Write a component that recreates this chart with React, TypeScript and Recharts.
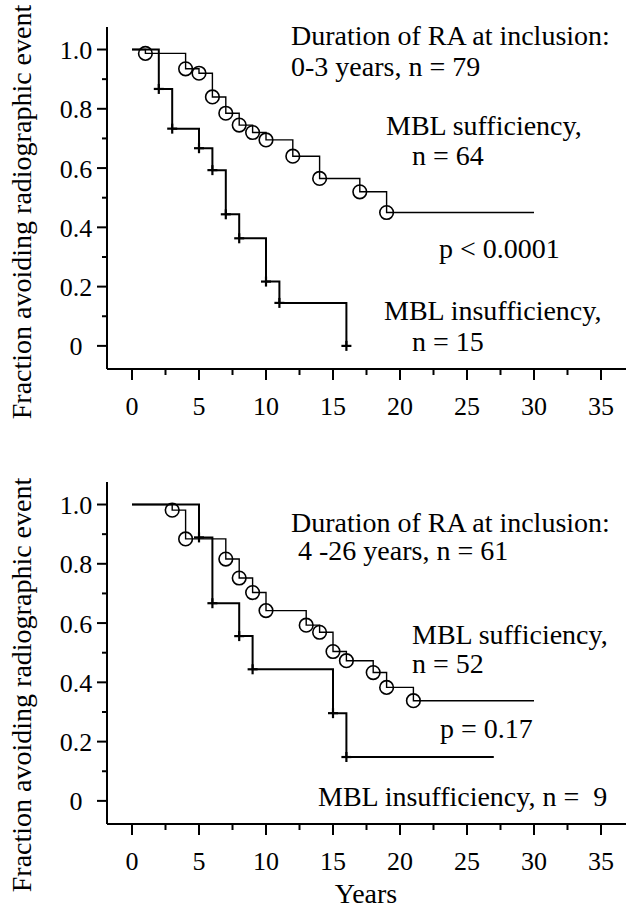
import React from 'react';
import { LineChart, Line, XAxis, YAxis } from 'recharts';

// ---- shared axes ----
const yearTicks = [0, 2.5, 5, 7.5, 10, 12.5, 15, 17.5, 20, 22.5, 25, 27.5, 30, 32.5, 35];
const fractionTicks = [0, 0.1, 0.2, 0.3, 0.4, 0.5, 0.6, 0.7, 0.8, 0.9, 1.0];

// ---- top panel: 0-3 years ----
const topSuffYears = [0, 1, 4, 5, 6, 7, 8, 9, 10, 12, 14, 17, 19, 30];
const topSuffFraction = [1.0, 0.987, 0.935, 0.92, 0.84, 0.785, 0.745, 0.72, 0.695, 0.64, 0.565, 0.52, 0.45, 0.45];
const topInsuffYears = [0, 2, 3, 5, 6, 7, 8, 10, 11, 16];
const topInsuffFraction = [1.0, 0.867, 0.733, 0.667, 0.593, 0.444, 0.363, 0.217, 0.145, 0];

// ---- bottom panel: 4-26 years ----
const botSuffYears = [0, 3, 4, 7, 8, 9, 10, 13, 14, 15, 16, 18, 19, 21, 30];
const botSuffFraction = [1.0, 0.981, 0.884, 0.816, 0.752, 0.703, 0.642, 0.593, 0.569, 0.504, 0.473, 0.433, 0.383, 0.338, 0.338];
const botInsuffYears = [0, 5, 6, 8, 9, 15, 16, 27];
const botInsuffFraction = [1.0, 0.889, 0.667, 0.556, 0.444, 0.296, 0.148, 0.148];

const FONT = '"Liberation Serif", "Times New Roman", serif';

function buildSeries(years: number[], fractions: number[], lastIsMark: boolean) {
  return years.map((y, i) => ({
    year: y,
    frac: fractions[i],
    mark: i > 0 && (i < years.length - 1 || lastIsMark),
  }));
}

const CircleDot = (props: any) => {
  const { cx, cy, payload, index } = props;
  if (!payload || !payload.mark) return <g key={`c-${index}`} />;
  return <circle key={`c-${index}`} cx={cx} cy={cy} r={6.8} fill="none" stroke="#000" strokeWidth={1.6} />;
};

const CrossDot = (props: any) => {
  const { cx, cy, payload, index } = props;
  if (!payload || !payload.mark) return <g key={`x-${index}`} />;
  return (
    <g key={`x-${index}`}>
      <line x1={cx - 5} x2={cx + 5} y1={cy} y2={cy} stroke="#000" strokeWidth={2.2} />
      <line x1={cx} x2={cx} y1={cy - 5} y2={cy + 5} stroke="#000" strokeWidth={2.2} />
    </g>
  );
};

const XTick = (props: any) => {
  const { x, y, payload } = props;
  const v = payload.value;
  const major = Math.abs(v % 5) < 1e-6;
  return (
    <g>
      <line x1={x} x2={x} y1={y} y2={y + (major ? 11 : 6)} stroke="#000" strokeWidth={2} />
      {major && (
        <text x={x} y={y + 46} textAnchor="middle" fontSize={26} style={{ fontFamily: FONT }} fill="#000">
          {v}
        </text>
      )}
    </g>
  );
};

const YTick = (props: any) => {
  const { x, y, payload } = props;
  const v = payload.value;
  const major = Math.round(v * 10) % 2 === 0;
  return (
    <g>
      <line x1={x} x2={x - (major ? 10 : 5)} y1={y} y2={y} stroke="#000" strokeWidth={2} />
      {major && (
        <text x={76} y={y + 9.5} textAnchor="middle" fontSize={26} style={{ fontFamily: FONT }} fill="#000">
          {v === 0 ? '0' : v.toFixed(1)}
        </text>
      )}
    </g>
  );
};

function Panel({ suff, insuff }: { suff: any[]; insuff: any[] }) {
  return (
    <LineChart width={626} height={455} margin={{ top: 27, right: 0, bottom: 0, left: 0 }}>
      <XAxis
        type="number"
        dataKey="year"
        domain={[-1.866, 36.866]}
        ticks={yearTicks}
        interval={0}
        allowDataOverflow
        height={86}
        tickSize={0}
        tickMargin={0}
        tickLine={false}
        tick={<XTick />}
        axisLine={{ stroke: '#000', strokeWidth: 2 }}
      />
      <YAxis
        type="number"
        dataKey="frac"
        domain={[-0.078, 1.076]}
        ticks={fractionTicks}
        interval={0}
        allowDataOverflow
        width={107}
        tickSize={0}
        tickMargin={0}
        tickLine={false}
        tick={<YTick />}
        axisLine={{ stroke: '#000', strokeWidth: 2 }}
      />
      <Line
        data={suff}
        dataKey="frac"
        type="stepAfter"
        stroke="#000"
        strokeWidth={1.4}
        dot={CircleDot}
        activeDot={false}
        isAnimationActive={false}
      />
      <Line
        data={insuff}
        dataKey="frac"
        type="stepAfter"
        stroke="#000"
        strokeWidth={2}
        dot={CrossDot}
        activeDot={false}
        isAnimationActive={false}
      />
    </LineChart>
  );
}

const T = ({ x, y, children, anchor }: any) => (
  <text x={x} y={y} fontSize={28} fill="#000" textAnchor={anchor || 'start'} style={{ fontFamily: FONT, whiteSpace: 'pre' }}>
    {children}
  </text>
);

export default function App() {
  const topSuff = buildSeries(topSuffYears, topSuffFraction, false);
  const topInsuff = buildSeries(topInsuffYears, topInsuffFraction, true);
  const botSuff = buildSeries(botSuffYears, botSuffFraction, false);
  const botInsuff = buildSeries(botInsuffYears, botInsuffFraction, false);
  return (
    <div style={{ position: 'absolute', left: 0, top: 0, width: 626, height: 910, background: '#fff', fontFamily: FONT }}>
      <div style={{ position: 'absolute', left: 0, top: 0 }}>
        <Panel suff={topSuff} insuff={topInsuff} />
      </div>
      <div style={{ position: 'absolute', left: 0, top: 455 }}>
        <Panel suff={botSuff} insuff={botInsuff} />
      </div>
      <svg width={626} height={910} style={{ position: 'absolute', left: 0, top: 0, pointerEvents: 'none' }}>
        <text x={31} y={212} transform="rotate(-90 31 212)" textAnchor="middle" fontSize={28} style={{ fontFamily: FONT }} fill="#000">
          Fraction avoiding radiographic event
        </text>
        <text x={31} y={685} transform="rotate(-90 31 685)" textAnchor="middle" fontSize={28} style={{ fontFamily: FONT }} fill="#000">
          Fraction avoiding radiographic event
        </text>
        <T x={291} y={45}>Duration of RA at inclusion:</T>
        <T x={291} y={76}>0-3 years, n = 79</T>
        <T x={386} y={135}>MBL sufficiency,</T>
        <T x={412} y={165}>n = 64</T>
        <T x={439} y={258}>p &lt; 0.0001</T>
        <T x={384} y={320}>MBL insufficiency,</T>
        <T x={412} y={351}>n = 15</T>

        <T x={291} y={532}>Duration of RA at inclusion:</T>
        <T x={291} y={560}>{' 4 -26 years, n = 61'}</T>
        <T x={412} y={644}>MBL sufficiency,</T>
        <T x={412} y={673}>n = 52</T>
        <T x={440} y={738}>p = 0.17</T>
        <T x={318} y={806}>{'MBL insufficiency, n =  9'}</T>

        <T x={366} y={903} anchor="middle">Years</T>
      </svg>
    </div>
  );
}
